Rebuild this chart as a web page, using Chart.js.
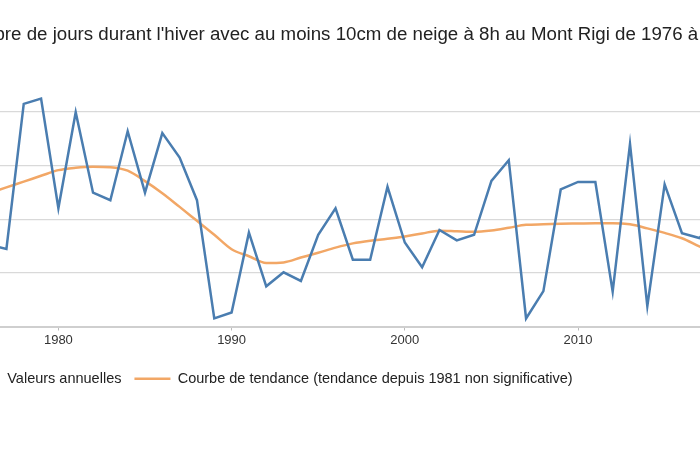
<!DOCTYPE html>
<html>
<head>
<meta charset="utf-8">
<script src="https://cdn.jsdelivr.net/npm/chart.js@4.4.1/dist/chart.umd.min.js"></script>
<style>
  html, body { margin: 0; padding: 0; background: #fff; overflow: hidden; width: 700px; height: 450px; }
  #wrap { position: absolute; left: -49px; top: 0; width: 798px; height: 450px; }
</style>
</head>
<body>
<div id="wrap"><canvas id="c"></canvas></div>
<script>
const titleText = "Nombre de jours durant l'hiver avec au moins 10cm de neige à 8h au Mont Rigi de 1976 à 2018";
const years = [1976,1977,1978,1979,1980,1981,1982,1983,1984,1985,1986,1987,1988,1989,1990,1991,1992,1993,1994,1995,1996,1997,1998,1999,2000,2001,2002,2003,2004,2005,2006,2007,2008,2009,2010,2011,2012,2013,2014,2015,2016,2017,2018];
const annualValues = [70.5,68.9,123,125,84.1,119.9,89.9,87.1,112.8,89.9,112.1,103,87.1,43,45.2,75,55,60.2,57,74.2,84.1,64.9,64.9,92.1,71.3,62.1,76,72.1,74.2,94.3,102,43,53.2,91.1,93.9,93.9,53,108.1,47.6,93,74.8,73,79.7];
const trendValues = [89.7,91.9,94,96.2,98.3,99.2,99.6,99.4,98.1,94.2,89.7,84.6,79.4,74.2,68.8,66.2,63.7,63.9,65.7,67.5,69.4,71,72,72.7,73.6,74.7,75.7,75.5,75.3,75.8,76.8,77.9,78.1,78.3,78.4,78.5,78.5,78.1,76.6,74.9,72.9,69.9,67.1];
const xTicks = [1980, 1990, 2000, 2010];
const yTicks = [40, 60, 80, 100, 120];
const seriesNames = ["Valeurs annuelles", "Courbe de tendance (tendance depuis 1981 non significative)"];

const FONT = "'Liberation Sans', Arial, Helvetica, sans-serif";

new Chart(document.getElementById('c'), {
  type: 'line',
  data: {
    datasets: [
      {
        label: seriesNames[0],
        data: years.map((y, i) => ({x: y, y: annualValues[i]})),
        borderColor: '#4a7db0',
        backgroundColor: '#4a7db0',
        borderWidth: 2.5,
        pointRadius: 0,
        tension: 0
      },
      {
        label: seriesNames[1],
        data: years.map((y, i) => ({x: y, y: trendValues[i]})),
        borderColor: '#f2a766',
        backgroundColor: '#f2a766',
        borderWidth: 2.5,
        pointRadius: 0,
        cubicInterpolationMode: 'monotone'
      }
    ]
  },
  options: {
    responsive: true,
    maintainAspectRatio: false,
    animation: false,
    layout: { padding: { left: 0, right: 0, top: 0, bottom: 54 } },
    plugins: {
      tooltip: { enabled: false },
      title: {
        display: true,
        text: titleText,
        color: '#222',
        font: { family: FONT, size: 18.7, weight: 'normal' },
        padding: { top: 23.5, bottom: 39.2 }
      },
      legend: {
        display: true,
        position: 'bottom',
        align: 'start',
        labels: {
          color: '#222',
          font: { family: FONT, size: 14.5 },
          boxWidth: 36,
          boxHeight: 2.5,
          padding: 13,
          generateLabels: (chart) => {
            const items = Chart.defaults.plugins.legend.labels.generateLabels(chart);
            return items.map(it => Object.assign(it, { fillStyle: it.strokeStyle, lineWidth: 0, strokeStyle: 'rgba(0,0,0,0)' }));
          }
        }
      }
    },
    scales: {
      x: {
        type: 'linear',
        min: 1976,
        max: 2019.87,
        afterBuildTicks: (s) => { s.ticks = xTicks.map(v => ({value: v})); },
        afterFit: (s) => { s.height = 32; },
        grid: { display: true, drawOnChartArea: false, drawTicks: true, tickLength: 4, color: '#bbb' },
        border: { display: true, color: '#cfcfcf', width: 2 },
        ticks: { color: '#333', font: { family: FONT, size: 13 }, padding: 2, callback: (v) => String(v), maxRotation: 0 }
      },
      y: {
        type: 'linear',
        min: 40,
        max: 130,
        afterBuildTicks: (s) => { s.ticks = yTicks.map(v => ({value: v})); },
        afterFit: (s) => { s.width = 38.1; },
        grid: { color: '#d9d9d9', lineWidth: 1.2, drawTicks: false },
        border: { display: false },
        ticks: { display: false }
      }
    }
  }
});
</script>
</body>
</html>
